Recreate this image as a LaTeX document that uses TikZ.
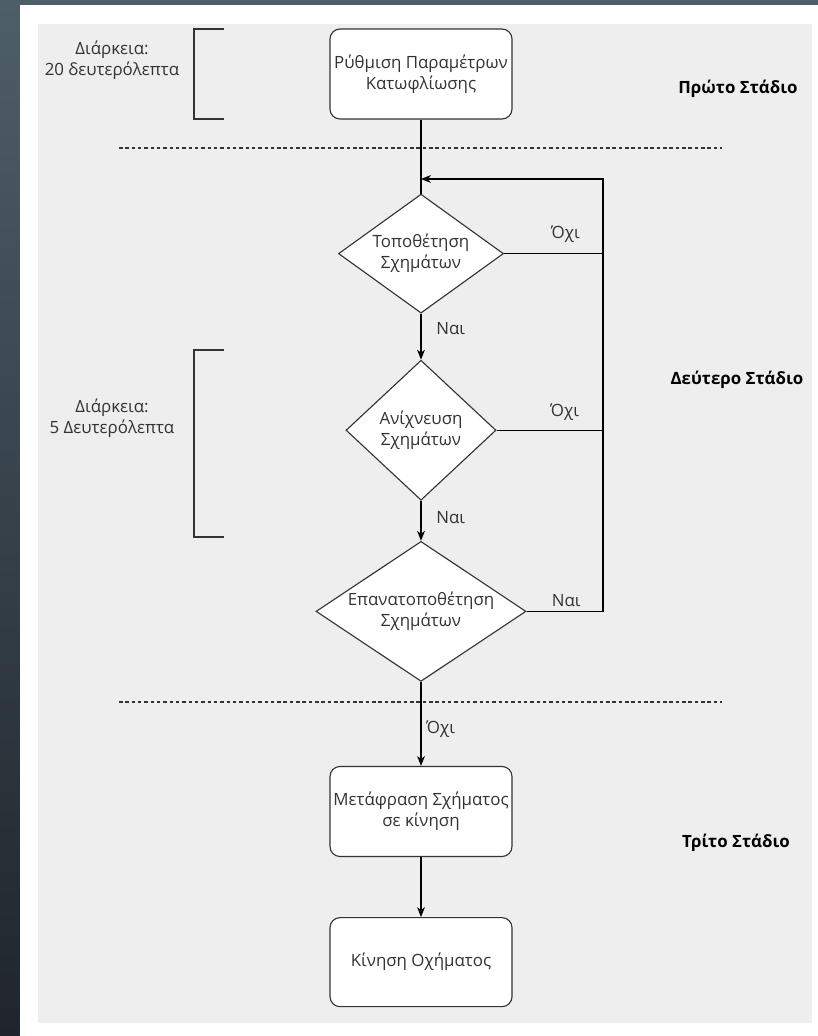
\documentclass[tikz,border=0pt]{standalone}
\usepackage{fontspec}
\setmainfont{Open Sans}
\usepackage{xcolor}
\usetikzlibrary{shapes,arrows.meta,positioning}

\definecolor{slatetop}{HTML}{4E5E69}
\definecolor{slatebottom}{HTML}{1F252B}
\definecolor{panel}{HTML}{EEEEEE}
\definecolor{ink}{HTML}{333333}

\begin{document}
\begin{tikzpicture}[
        node distance=1.5cm, font=\fontsize{12}{15}\selectfont,
        process/.style={rectangle, rounded corners=0.25cm, draw=ink, line width=0.8pt, fill=white, text=ink, minimum width=4.55cm, minimum height=2.25cm, align=center, inner sep=1pt},
        decision/.style={diamond, draw=ink, line width=0.8pt, fill=white, inner sep=0pt},
        note/.style={text=ink, align=center},
        stage/.style={font=\fontsize{12}{14}\selectfont\bfseries, text=black},
        lbl/.style={text=ink, inner sep=2pt},
        flow/.style={draw=black, line width=0.9pt},
        bracket/.style={draw=ink, line width=0.9pt},
        divider/.style={draw=ink, line width=0.8pt, dash pattern=on 2.5pt off 2pt},
        >={Stealth[length=7pt, width=5.5pt, inset=2pt]}
    ]
        \useasboundingbox (0,0) rectangle (20.45,-25.9);
        \shade[top color=slatetop, bottom color=slatebottom] (0,0) rectangle (20.45,-25.9);
        \fill[white] (0.4875,-0.125) rectangle (20.45,-25.9);
        \fill[panel] (0.9375,-0.6) rectangle (20.3,-25.575);

        \node[process] (setup) at (10.525,-1.85) {Ρύθμιση Παραμέτρων\\Κατωφλίωσης};
        \node[decision, minimum width=4.125cm, minimum height=2.975cm, below=1.85cm of setup,
            label={[text=ink, align=center]center:Τοποθέτηση\\Σχημάτων}] (place) {};
        \node[decision, minimum width=3.75cm, minimum height=3.5cm, below=1.15cm of place,
            label={[text=ink, align=center]center:Ανίχνευση\\Σχημάτων}] (detect) {};
        \node[decision, minimum width=5.25cm, minimum height=3.5cm, below=1cm of detect,
            label={[text=ink, align=center]center:Επανατοποθέτηση\\Σχημάτων}] (replace) {};
        \node[process, below=2.1cm of replace] (translate) {Μετάφραση Σχήματος\\σε κίνηση};
        \node[process, minimum height=2.225cm, below=1.5cm of translate] (drive) {Κίνηση Οχήματος};

        \node[note] (span1) at (2.8,-1.5) {Διάρκεια:\\20 δευτερόλεπτα};
        \node[note] (span2) at (2.8,-10.46) {Διάρκεια:\\5 Δευτερόλεπτα};
        \node[stage] (stage1) at (18.45,-2.225) {Πρώτο Στάδιο};
        \node[stage] (stage2) at (18.425,-9.5) {Δεύτερο Στάδιο};
        \node[stage] (stage3) at (18.4,-21.075) {Τρίτο Στάδιο};

        \draw[bracket] (5.6,-0.725) -- (4.85,-0.725) -- (4.85,-2.975) -- (5.6,-2.975);
        \draw[bracket] (5.6,-8.75) -- (4.85,-8.75) -- (4.85,-13.425) -- (5.6,-13.425);
        \draw[divider] (2.975,-3.7) -- (18.05,-3.7);
        \draw[divider] (2.975,-17.55) -- (18.05,-17.55);

        \coordinate (rail) at (15.075,-4.475);
        \coordinate (merge) at (setup.south |- rail);
        \draw[flow] (setup) -- (place);
        \draw[flow, ->] (place) -- node[lbl, right=0.3cm, pos=0.33] {Ναι} (detect);
        \draw[flow, ->] (detect) -- node[lbl, right=0.3cm, pos=0.43] {Ναι} (replace);
        \draw[flow, ->] (replace) -- node[lbl, right=0.05cm, pos=0.56] {Όχι} (translate);
        \draw[flow, ->] (translate) -- (drive);
        \draw[flow] (place.east) -- node[lbl, above=0.2cm, pos=0.62] {Όχι} (place.east -| rail);
        \draw[flow] (detect.east) -- node[lbl, above=0.15cm, pos=0.64] {Όχι} (detect.east -| rail);
        \draw[flow, ->] (replace.east) -- node[lbl, above=0.02cm, pos=0.52] {Ναι} (replace.east -| rail) -- (rail) -- (merge);
    \end{tikzpicture}
\end{document}
